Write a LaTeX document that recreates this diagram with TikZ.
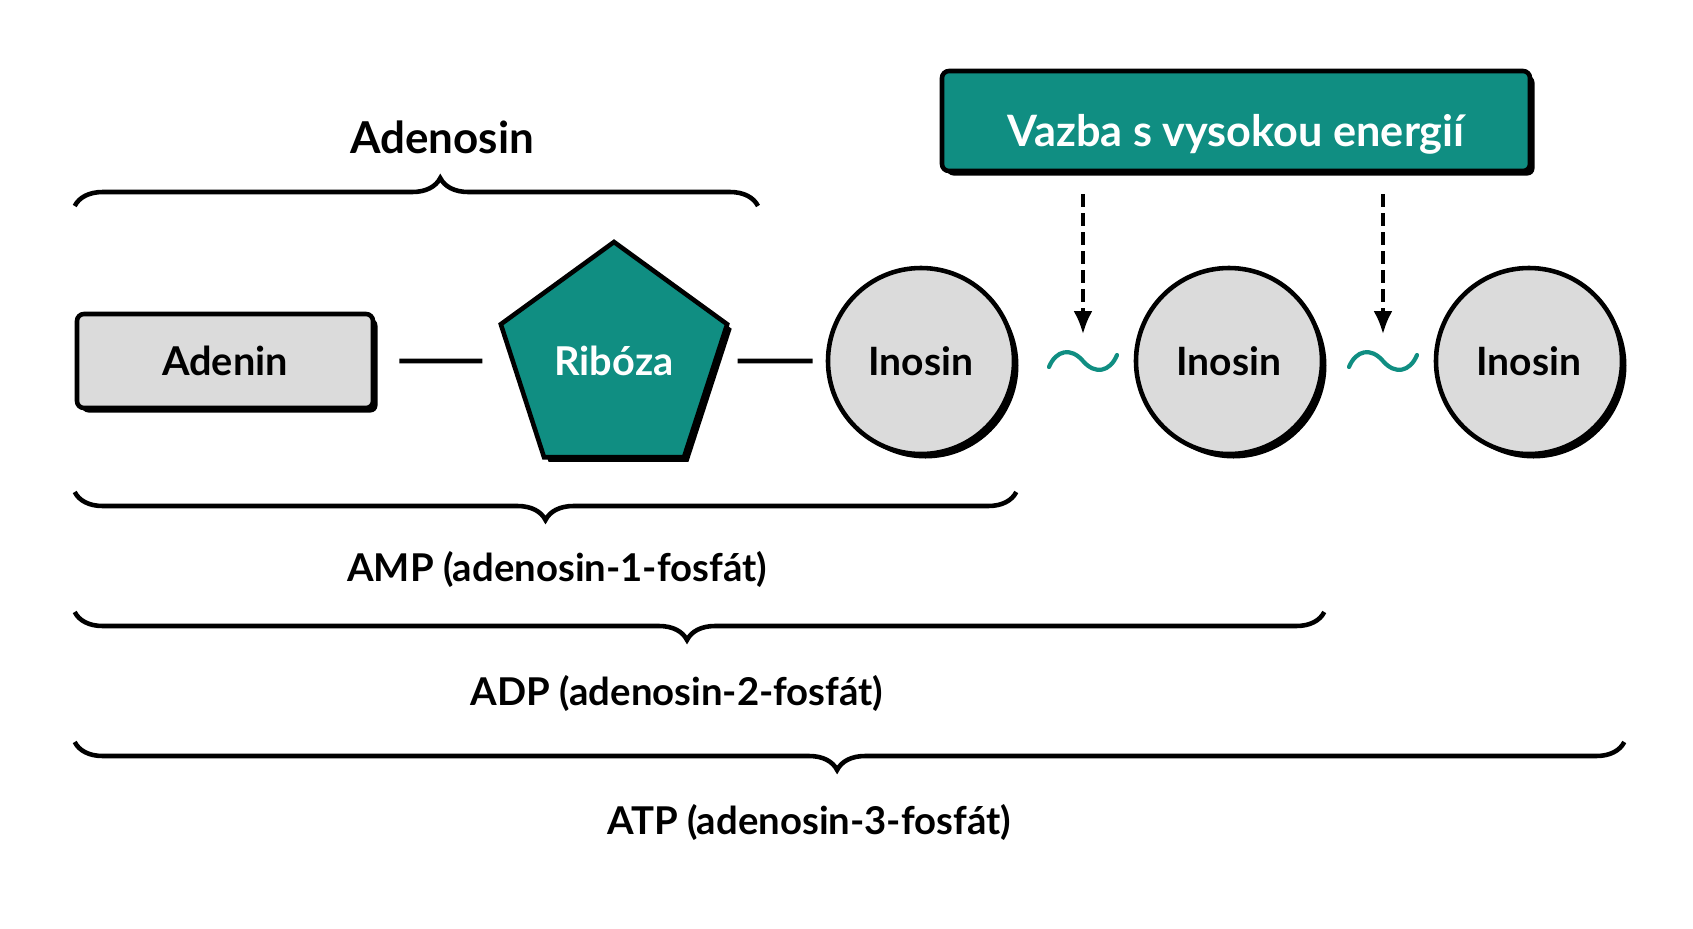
\documentclass[tikz,border=0pt]{standalone}
\usepackage{fontspec}
\setmainfont{Lato}
\usetikzlibrary{shapes.geometric,arrows.meta,positioning,calc,decorations.pathreplacing,shadows}
\definecolor{atpteal}{RGB}{16,142,130}
\definecolor{atpgray}{RGB}{219,219,219}

\begin{document}
\begin{tikzpicture}[
    font=\bfseries,
    part/.style={draw, line width=1.3pt, font=\fontsize{11.3}{13}\bfseries,
        drop shadow={shadow xshift=0.045cm, shadow yshift=-0.045cm, fill=black, opacity=1}},
    base/.style={part, fill=atpgray, rounded corners=0.07cm, minimum width=2.96cm, minimum height=0.94cm},
    sugar/.style={part, regular polygon, regular polygon sides=5, fill=atpteal, text=white, minimum size=2.38cm, inner sep=0pt},
    phosphate/.style={part, circle, fill=atpgray, minimum size=1.86cm, inner sep=0pt, font=\fontsize{11.1}{13}\bfseries},
    energy/.style={part, fill=atpteal, text=white, rounded corners=0.07cm, minimum width=5.88cm, minimum height=1.0cm,
        text height=0.5cm, text depth=0cm, font=\fontsize{12.3}{14}\bfseries},
    bond/.style={line width=1.4pt},
    wave/.style={line width=1.2pt, atpteal, line cap=round},
    arrow/.style={line width=0.9pt, dash pattern=on 0.13cm off 0.06cm, -{Latex[length=0.23cm, width=0.19cm]}},
    brace/.style={line width=1.3pt, decorate, decoration={brace, amplitude=0.28cm}},
    label/.style={font=\fontsize{10.9}{13}\bfseries}
]
\useasboundingbox[fill=white] (0,0) rectangle (16.93,-9.29);

% Molecule parts
\node[base] (adenin) at (2.25,-3.61) {Adenin};
\node[sugar] (riboza) at (6.14,-3.61) {Ribóza};
\node[phosphate] (ino1) at (9.21,-3.61) {Inosin};
\node[phosphate] (ino2) at (12.29,-3.61) {Inosin};
\node[phosphate] (ino3) at (15.29,-3.61) {Inosin};

% High energy bond box
\node[energy] (vazba) at (12.36,-1.21) {Vazba s vysokou energií};

% Bonds
\draw[bond, shorten <=0.24cm, shorten >=0.28cm] (adenin) -- (riboza);
\draw[bond, shorten <=0.2cm, shorten >=0.13cm] (riboza) -- (ino1);

\coordinate (bond1) at (10.83,-3.61);
\coordinate (bond2) at (13.83,-3.61);
\foreach \b in {bond1,bond2} {
    \draw[wave] ($(\b)+(-0.34,-0.06)$) .. controls ($(\b)+(-0.27,0.11)$) and ($(\b)+(-0.12,0.14)$) .. (\b)
        .. controls ($(\b)+(0.12,-0.14)$) and ($(\b)+(0.27,-0.11)$) .. ($(\b)+(0.34,0.06)$);
    \draw[arrow, shorten <=0.21cm, shorten >=0.27cm] (vazba.south -| \b) -- (\b);
}

% Braces
\draw[brace, decoration={aspect=0.535}] (adenin.west |- 0,-2.06) -- (7.58,-2.06);
\node[label, font=\fontsize{12.5}{14}\bfseries] (adenosin) at (4.42,-1.37) {Adenosin};

\draw[brace, decoration={mirror}] (adenin.west |- 0,-4.92) -- (ino1.east |- 0,-4.92);
\node[label] (amp) at (5.57,-5.69) {AMP (adenosin-1-fosfát)};

\draw[brace, decoration={mirror, aspect=0.49}] (adenin.west |- 0,-6.12) -- (ino2.east |- 0,-6.12);
\node[label] (adp) at (6.77,-6.93) {ADP (adenosin-2-fosfát)};

\draw[brace, decoration={mirror, aspect=0.492}] (adenin.west |- 0,-7.42) -- (ino3.east |- 0,-7.42);
\node[label] (atp) at (8.09,-8.22) {ATP (adenosin-3-fosfát)};

\end{tikzpicture}
\end{document}
